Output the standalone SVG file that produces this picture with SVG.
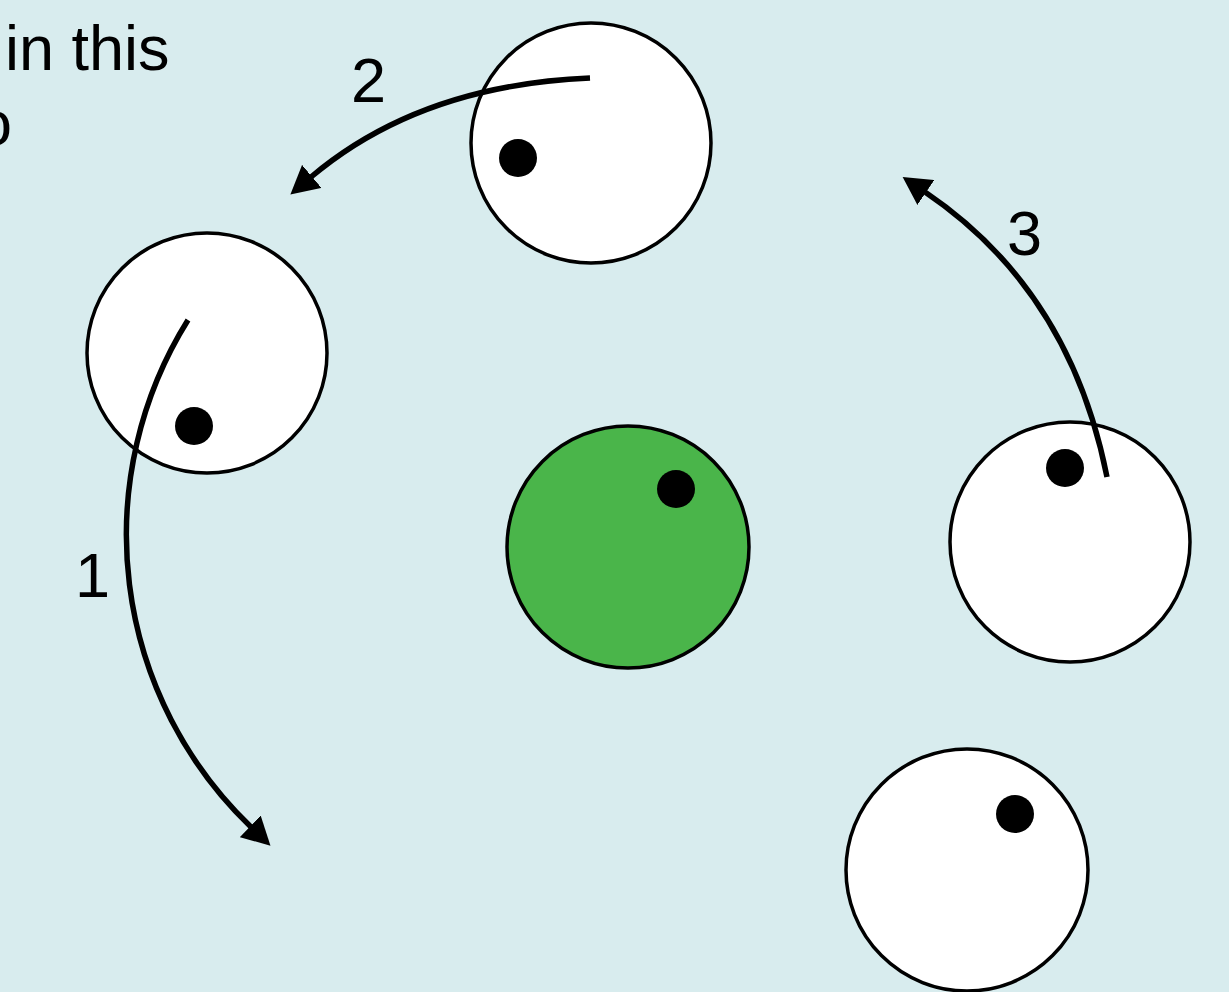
<svg xmlns="http://www.w3.org/2000/svg" width="1229" height="992" viewBox="0 0 1229 992">
<style>
.ring{fill:#ffffff;stroke:#000;stroke-width:3.5}
.ring.green{fill:#4ab54a}
.dot{fill:#000}
.arc{fill:none;stroke:#000;stroke-width:5.5;marker-end:url(#ah)}
.txt{font-family:"Liberation Sans",Arial,sans-serif;font-size:63px;fill:#000}
</style>
<defs>
<marker id="ah" markerUnits="userSpaceOnUse" markerWidth="28" markerHeight="30" viewBox="0 0 28 30" refX="1" refY="15" orient="auto">
<path d="M0,0 L28,15 L0,30 z" fill="#000"/>
</marker>
</defs>
<rect width="1229" height="992" fill="#d8ecee"/>
<g id="caption">
<text class="txt" x="5" y="70">in this</text>
<text class="txt" x="-23" y="145">o</text>
</g>
<g id="node-top"><circle class="ring" cx="591" cy="143" r="120"/><circle class="dot" cx="518" cy="158" r="19"/></g>
<g id="node-left"><circle class="ring" cx="207" cy="353" r="120"/><circle class="dot" cx="194" cy="426" r="19"/></g>
<g id="node-center"><circle class="ring green" cx="628" cy="547" r="121"/><circle class="dot" cx="676" cy="489" r="19"/></g>
<g id="node-right"><circle class="ring" cx="1070" cy="542" r="120"/><circle class="dot" cx="1065" cy="468" r="19"/></g>
<g id="node-bottom"><circle class="ring" cx="967" cy="870" r="121"/><circle class="dot" cx="1015" cy="814" r="19"/></g>
<g id="connectors">
<path class="arc" d="M188,320 A405,405 0 0,0 251,827"/>
<path class="arc" d="M590,78 Q420,85 311,177"/>
<path class="arc" d="M1107,477 Q1070,290 925,192"/>
</g>
<g id="labels">
<text class="txt" x="75" y="597">1</text>
<text class="txt" x="351" y="102">2</text>
<text class="txt" x="1007" y="255">3</text>
</g>
</svg>
